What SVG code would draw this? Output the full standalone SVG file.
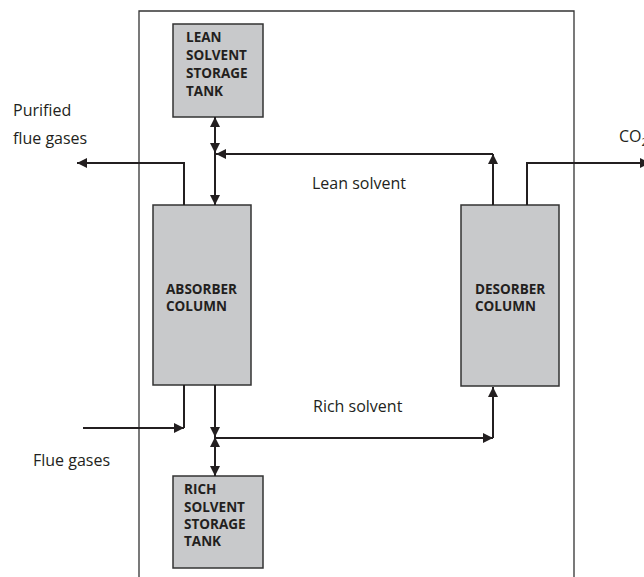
<svg xmlns="http://www.w3.org/2000/svg" width="644" height="577" viewBox="0 0 644 577">
<style>
.box{fill:#c8c9cb;stroke:#333;stroke-width:1.5}
.nt{font-family:"Open Sans","Liberation Sans",sans-serif;font-weight:bold;font-size:13.5px;fill:#231f20}
.lb{font-family:"Open Sans","Liberation Sans",sans-serif;font-size:16px;fill:#231f20}
.ln{fill:none;stroke:#231f20;stroke-width:2}
.fr{fill:none;stroke:#333;stroke-width:1.3}
</style>
<defs>
<marker id="ah" markerUnits="userSpaceOnUse" markerWidth="11" markerHeight="10" refX="10" refY="5" orient="auto-start-reverse" viewBox="0 0 11 10">
<path d="M0,0 L10,5 L0,10 z" fill="#231f20"/>
</marker>
</defs>
<rect width="644" height="577" fill="#fff"/>
<path class="fr" d="M139,577 V11 H574 V577"/>
<g id="lean-tank">
<rect class="box" x="173" y="24" width="90" height="93"/>
<text class="nt" x="186" y="42">LEAN</text>
<text class="nt" x="186" y="60">SOLVENT</text>
<text class="nt" x="186" y="78">STORAGE</text>
<text class="nt" x="186" y="96">TANK</text>
</g>
<g id="absorber">
<rect class="box" x="153" y="205" width="98" height="180"/>
<text class="nt" x="166" y="294">ABSORBER</text>
<text class="nt" x="166" y="311">COLUMN</text>
</g>
<g id="desorber">
<rect class="box" x="461" y="205" width="98" height="181"/>
<text class="nt" x="475" y="294">DESORBER</text>
<text class="nt" x="475" y="311">COLUMN</text>
</g>
<g id="rich-tank">
<rect class="box" x="173" y="476" width="90" height="92"/>
<text class="nt" x="184" y="494">RICH</text>
<text class="nt" x="184" y="512">SOLVENT</text>
<text class="nt" x="184" y="529">STORAGE</text>
<text class="nt" x="184" y="546">TANK</text>
</g>
<g id="connectors">
<path class="ln" d="M184,205 V163 H77" marker-end="url(#ah)"/>
<path class="ln" d="M215,117 V153" marker-start="url(#ah)" marker-end="url(#ah)"/>
<path class="ln" d="M215,153 V205" marker-end="url(#ah)"/>
<path class="ln" d="M493,205 V154" marker-end="url(#ah)"/>
<path class="ln" d="M493,154 H216" marker-end="url(#ah)"/>
<path class="ln" d="M527,205 V163 H650" marker-end="url(#ah)"/>
<path class="ln" d="M184,385 V428"/>
<path class="ln" d="M83,428 H184" marker-end="url(#ah)"/>
<path class="ln" d="M215,385 V437" marker-end="url(#ah)"/>
<path class="ln" d="M215,437 V476" marker-start="url(#ah)" marker-end="url(#ah)"/>
<path class="ln" d="M215,438 H493" marker-end="url(#ah)"/>
<path class="ln" d="M493,438 V387" marker-end="url(#ah)"/>
</g>
<g id="labels">
<text class="lb" x="13" y="116">Purified</text>
<text class="lb" x="13" y="144">flue gases</text>
<text class="lb" x="312" y="189">Lean solvent</text>
<text class="lb" x="619" y="142">CO<tspan font-size="11" dy="4">2</tspan></text>
<text class="lb" x="313" y="412">Rich solvent</text>
<text class="lb" x="33" y="466">Flue gases</text>
</g>
</svg>
